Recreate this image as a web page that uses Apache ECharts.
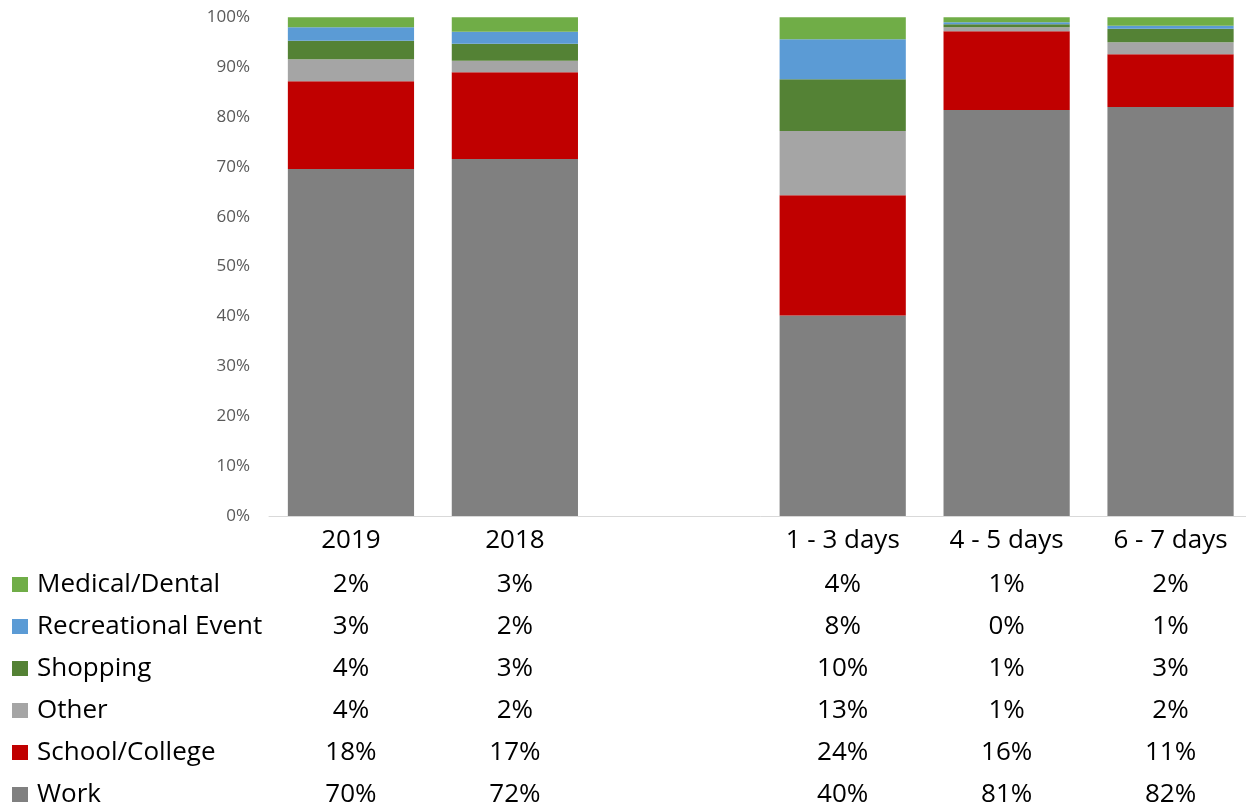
<!DOCTYPE html>
<html>
<head>
<meta charset="utf-8">
<script src="https://cdn.jsdelivr.net/npm/echarts@6/dist/echarts.min.js"></script>
<style>
html,body{margin:0;padding:0;background:#fff;overflow:hidden;width:1246px;height:808px;}
#chart{width:1262px;height:808px;}
</style>
</head>
<body>
<div id="chart"></div>
<script>
var categories = ['2019', '2018', '', '1 - 3 days', '4 - 5 days', '6 - 7 days'];
var work         = [69.6, 71.6, null, 40.2, 81.4, 82.0];
var school       = [17.6, 17.4, null, 24.1, 15.8, 10.6];
var other        = [4.4, 2.3, null, 12.9, 0.8, 2.4];
var shopping     = [3.7, 3.4, null, 10.4, 0.6, 2.7];
var recreational = [2.7, 2.4, null, 8.0, 0.4, 0.6];
var medical      = [2.0, 2.9, null, 4.4, 1.0, 1.7];
var yTicks = [0, 10, 20, 30, 40, 50, 60, 70, 80, 90, 100];

var seriesDefs = [
  {name: 'Work', data: work, color: '#808080'},
  {name: 'School/College', data: school, color: '#C00000'},
  {name: 'Other', data: other, color: '#A5A5A5'},
  {name: 'Shopping', data: shopping, color: '#548235'},
  {name: 'Recreational Event', data: recreational, color: '#5B9BD5'},
  {name: 'Medical/Dental', data: medical, color: '#70AD47'}
];
// table rows, top to bottom
var tableRows = [medical, recreational, shopping, other, school, work];
var legendOrder = ['Medical/Dental', 'Recreational Event', 'Shopping', 'Other', 'School/College', 'Work'];

var FONT = 'Open Sans';
var xAxes = [{
  type: 'category',
  data: categories,
  gridIndex: 0,
  position: 'bottom',
  axisLine: {show: true, lineStyle: {color: '#D9D9D9', width: 1}},
  axisTick: {show: false},
  axisLabel: {fontFamily: FONT, fontSize: 26, lineHeight: 26, color: '#000', margin: 12, interval: 0}
}];
tableRows.forEach(function (row, i) {
  xAxes.push({
    type: 'category',
    data: categories,
    gridIndex: 0,
    position: 'bottom',
    offset: 55.5 + 42 * i,
    axisLine: {show: false},
    axisTick: {show: false},
    splitLine: {show: false},
    axisLabel: {
      fontFamily: FONT, fontSize: 26, lineHeight: 26, color: '#000', margin: 0, interval: 0,
      formatter: function (v, idx) {
        var val = row[idx];
        return (val === null || val === undefined) ? '' : Math.round(val) + '%';
      }
    }
  });
});

var option = {
  animation: false,
  backgroundColor: '#fff',
  grid: {left: 269, top: 17.3, width: 983.5, height: 498.7, containLabel: false},
  legend: {
    orient: 'vertical',
    left: 12,
    top: 571.5,
    padding: 0,
    itemWidth: 16,
    itemHeight: 15,
    itemGap: 16,
    icon: 'rect',
    data: legendOrder,
    textStyle: {fontFamily: FONT, fontSize: 26, lineHeight: 26, color: '#000', padding: [0, 0, 0, 4]}
  },
  xAxis: xAxes,
  yAxis: {
    type: 'value',
    min: yTicks[0],
    max: yTicks[yTicks.length - 1],
    interval: yTicks[1] - yTicks[0],
    axisLine: {show: false},
    axisTick: {show: false},
    splitLine: {show: false},
    axisLabel: {fontFamily: FONT, fontSize: 17, color: '#595959', margin: 19, formatter: '{value}%'}
  },
  series: seriesDefs.map(function (s) {
    return {
      name: s.name,
      type: 'bar',
      stack: 'total',
      xAxisIndex: 0,
      data: s.data,
      barCategoryGap: '23%',
      itemStyle: {color: s.color},
      emphasis: {disabled: true}
    };
  })
};

var chart = echarts.init(document.getElementById('chart'), null, {renderer: 'canvas'});
chart.setOption(option);
</script>
</body>
</html>
